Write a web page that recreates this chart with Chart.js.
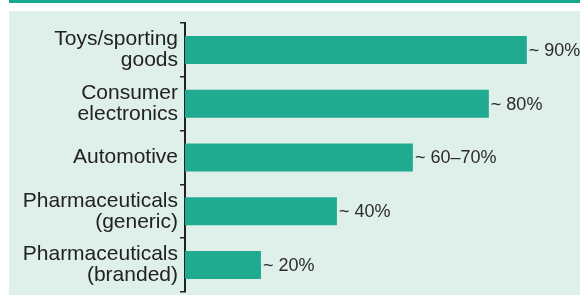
<!DOCTYPE html>
<html>
<head>
<meta charset="utf-8">
<script src="https://cdn.jsdelivr.net/npm/chart.js@4/dist/chart.umd.min.js"></script>
<style>
  html, body { margin: 0; padding: 0; background: #ffffff; }
  body { width: 580px; height: 295px; position: relative; overflow: hidden; }
  #strip { position: absolute; left: 9px; top: 0; width: 571px; height: 3px; background: #16aa8a; }
  #panel { position: absolute; left: 9px; top: 11px; width: 571px; height: 284px; background: #dfefe9; }
  #wrap { position: absolute; left: 0; top: 0; width: 580px; height: 295px; }
</style>
</head>
<body>
<div id="strip"></div>
<div id="panel"></div>
<div id="wrap"><canvas id="c" width="580" height="295"></canvas></div>
<script>
const categories = [
  ["Toys/sporting", "goods"],
  ["Consumer", "electronics"],
  ["Automotive"],
  ["Pharmaceuticals", "(generic)"],
  ["Pharmaceuticals", "(branded)"]
];
const shareValues = [90, 80, 60, 40, 20];
const valueLabels = ["~ 90%", "~ 80%", "~ 60\u201370%", "~ 40%", "~ 20%"];

const valueLabelPlugin = {
  id: 'valueLabels',
  afterDatasetsDraw(chart) {
    const ctx = chart.ctx;
    const meta = chart.getDatasetMeta(0);
    ctx.save();
    ctx.font = '18px "Liberation Sans", Arial, sans-serif';
    ctx.fillStyle = '#2b2b2b';
    ctx.textAlign = 'left';
    ctx.textBaseline = 'middle';
    meta.data.forEach((bar, i) => {
      ctx.fillText(valueLabels[i], bar.x + 2, bar.y + 1);
    });
    ctx.restore();
  }
};

new Chart(document.getElementById('c'), {
  type: 'bar',
  data: {
    labels: categories,
    datasets: [{
      data: shareValues,
      backgroundColor: '#20ab91',
      borderWidth: 0,
      barPercentage: 0.52,
      categoryPercentage: 1.0
    }]
  },
  options: {
    indexAxis: 'y',
    responsive: false,
    animation: false,
    events: [],
    layout: { padding: { top: 23, bottom: 3, left: 0, right: 0 } },
    plugins: {
      legend: { display: false },
      tooltip: { enabled: false }
    },
    scales: {
      x: {
        display: false,
        min: 0,
        max: 104
      },
      y: {
        offset: true,
        afterFit(scale) {
          scale.width = 185;
          scale.paddingTop = 0;
          scale.paddingBottom = 0;
        },
        border: { display: true, color: '#222222', width: 2 },
        grid: {
          display: true,
          offset: true,
          drawOnChartArea: false,
          drawTicks: true,
          tickLength: 5,
          color: '#222222',
          lineWidth: 1.5
        },
        ticks: {
          color: '#222222',
          padding: 2,
          font: { family: '"Liberation Sans", Arial, sans-serif', size: 21, lineHeight: 1.0 }
        }
      }
    }
  },
  plugins: [valueLabelPlugin]
});
</script>
</body>
</html>
